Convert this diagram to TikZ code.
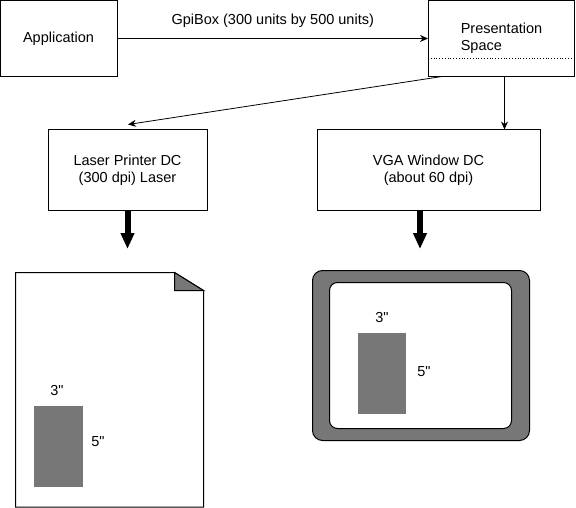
\documentclass[tikz,border=0pt]{standalone}
\usepackage{fontspec}
\newfontfamily\diagfont{Liberation Sans}
\usetikzlibrary{arrows.meta}
\definecolor{midgray}{RGB}{119,119,119}
\tikzset{
  box/.style={draw, line width=1pt, rectangle, inner sep=0pt, align=center, font=\diagfont\fontsize{14.5}{17}\selectfont},
  lbl/.style={inner sep=0pt, font=\diagfont\fontsize{14.5}{17}\selectfont},
  thin arrow/.style={draw, line width=0.8pt, -{Stealth[length=8pt,width=7pt]}},
  fat arrow/.style={draw, line width=6pt, -{Triangle[length=16pt,width=13pt]}},
  grayfill/.style={fill=midgray, draw=black, line width=1pt},
}
\begin{document}
\begin{tikzpicture}[x=1pt,y=-1pt]
\useasboundingbox (0,0) rectangle (576,508);
% boxes
\node[box, minimum width=117pt, minimum height=76pt] (app) at (58.5,38.5) {Application};
\node[box, minimum width=146pt, minimum height=76pt, align=left] (ps) at (501.5,38.5) {Presentation\\Space};
\draw[dotted, line width=0.8pt] (ps.west |- 0,58.5) -- (ps.east |- 0,58.5);
\node[box, minimum width=159pt, minimum height=81pt] (laser) at (127.5,170) {Laser Printer DC\\(300 dpi) Laser};
\node[box, minimum width=223pt, minimum height=81pt] (vga) at (428.5,170) {VGA Window DC\\(about 60 dpi)};
% connectors
\draw[thin arrow] (app.east) -- node[lbl, above=11pt] (gpi) {GpiBox (300 units by 500 units)} (ps.west |- app.east);
\coordinate (psl) at (442,76.5);
\coordinate (lasertop) at (128,124.5);
\draw[thin arrow] (psl) -- (lasertop);
\coordinate (psr) at (504.5,76.5);
\coordinate (vgatop) at (504.5,129.5);
\draw[thin arrow] (psr) -- (vgatop);
\coordinate (laserout) at (127.5,211);
\coordinate (lasertip) at (127.5,249);
\draw[fat arrow] (laserout) -- (lasertip);
\coordinate (vgaout) at (420,211);
\coordinate (vgatip) at (420,249);
\draw[fat arrow] (vgaout) -- (vgatip);
% printed page
\draw[line width=1pt, fill=white] (15.5,272.5) -- (174.5,272.5) -- (203.5,290.5) -- (203.5,507) -- (15.5,507) -- cycle;
\draw[grayfill, line join=miter] (174.5,272.5) -- (174.5,290.5) -- (203.5,290.5) -- cycle;
\fill[midgray] (34,406) rectangle (83,487);
\node[lbl] (p3) at (57,391) {3"};
\node[lbl] (p5) at (98,442) {5"};
% monitor
\draw[grayfill, rounded corners=10pt] (312.5,270.5) rectangle (529.5,440.5);
\draw[fill=white, line width=1pt, rounded corners=8pt] (329.5,282.5) rectangle (511.5,428.5);
\fill[midgray] (358,333) rectangle (406,414);
\node[lbl] (m3) at (382,318) {3"};
\node[lbl] (m5) at (424,372) {5"};
\end{tikzpicture}
\end{document}
